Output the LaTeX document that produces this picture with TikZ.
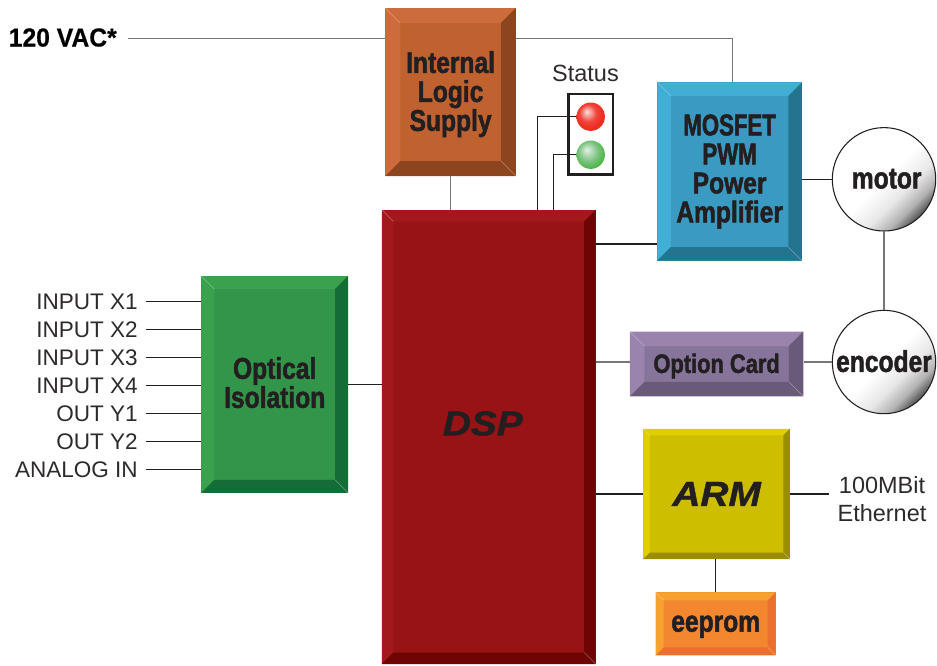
\documentclass[tikz,border=0pt]{standalone}
\usepackage{fontspec}
\setmainfont{Liberation Sans}
\newfontfamily\blockfont[FakeStretch=0.82,FakeBold=1.6]{Liberation Sans Bold}
\newfontfamily\capsfont[FakeStretch=0.74,FakeBold=1.6]{Liberation Sans Bold}
\newfontfamily\wideitfont[FakeStretch=1.12,FakeBold=1.2]{Liberation Sans Bold Italic}
\newfontfamily\vacfont[FakeStretch=0.95,FakeBold=0.5]{Liberation Sans Bold}
\usepackage{tikz}
\usetikzlibrary{calc}
\usetikzlibrary{positioning}

\definecolor{inkdark}{HTML}{231F20}
\definecolor{wiregray}{HTML}{777777}
\definecolor{logicface}{HTML}{C0622F}
\definecolor{logiclight}{HTML}{CC6C3A}
\definecolor{logicdark}{HTML}{8C451F}
\definecolor{dspface}{HTML}{971316}
\definecolor{dsplight}{HTML}{A3181C}
\definecolor{dspdark}{HTML}{6E0404}
\definecolor{mosfetface}{HTML}{3A9AC2}
\definecolor{mosfetlight}{HTML}{42ADD5}
\definecolor{mosfetdark}{HTML}{247490}
\definecolor{opticalface}{HTML}{33954A}
\definecolor{opticallight}{HTML}{3AA24F}
\definecolor{opticaldark}{HTML}{156C36}
\definecolor{optionface}{HTML}{87749A}
\definecolor{optionlight}{HTML}{9A84AE}
\definecolor{optiondark}{HTML}{6A5A7A}
\definecolor{armface}{HTML}{CDBE00}
\definecolor{armlight}{HTML}{DFCF00}
\definecolor{armdark}{HTML}{9A8E00}
\definecolor{eepromface}{HTML}{F28730}
\definecolor{eepromlight}{HTML}{F5A32E}
\definecolor{eepromdark}{HTML}{EB6F2E}
\definecolor{redglow}{HTML}{FBE0DC}
\definecolor{redmid}{HTML}{F0453C}
\definecolor{redrim}{HTML}{EE2E24}
\definecolor{greenglow}{HTML}{E4F0E4}
\definecolor{greenmid}{HTML}{7DC383}
\definecolor{greenrim}{HTML}{4FB848}
\pgfdeclareverticalshading{discshade}{100bp}{color(0bp)=(black!80); color(25bp)=(black!68); color(31bp)=(black!30); color(39bp)=(black!9); color(50bp)=(white); color(100bp)=(white)}
\pgfdeclareradialshading{redlamp}{\pgfpoint{-7bp}{9bp}}{color(0bp)=(redglow); color(15bp)=(redmid); color(24bp)=(redrim); color(50bp)=(redrim)}
\pgfdeclareradialshading{greenlamp}{\pgfpoint{-7bp}{9bp}}{color(0bp)=(greenglow); color(17bp)=(greenmid); color(27bp)=(greenrim); color(50bp)=(greenrim)}

\tikzset{
    bevelbox/.style n args={4}{rectangle, fill=#1, inner sep=0pt, align=center, text=inkdark,
        font=\blockfont\fontsize{22.5}{21.75}\selectfont,
        path picture={
            \coordinate (nw) at (path picture bounding box.north west);
            \coordinate (ne) at (path picture bounding box.north east);
            \coordinate (sw) at (path picture bounding box.south west);
            \coordinate (se) at (path picture bounding box.south east);
            \fill[#2] (nw) -- (ne) -- ([shift={(-#4,#4)}]ne) -- ([shift={(#4,#4)}]nw) -- cycle;
            \fill[#2] (nw) -- (sw) -- ([shift={(#4,-#4)}]sw) -- ([shift={(#4,#4)}]nw) -- cycle;
            \fill[#3] (se) -- (ne) -- ([shift={(-#4,#4)}]ne) -- ([shift={(-#4,-#4)}]se) -- cycle;
            \fill[#3] (se) -- (sw) -- ([shift={(#4,-#4)}]sw) -- ([shift={(-#4,-#4)}]se) -- cycle;
            \draw[white, opacity=.35, line width=.4pt] (nw) -- ([shift={(#4,#4)}]nw);
            \draw[white, opacity=.35, line width=.4pt] (se) -- ([shift={(-#4,-#4)}]se);
        }},
    boxsize/.style 2 args={minimum width=#1*0.75pt, minimum height=#2*0.75pt},
    logicbox/.style={bevelbox={logicface}{logiclight}{logicdark}{15}, boxsize={130.7}{168}},
    dspbox/.style={bevelbox={dspface}{dsplight}{dspdark}{11.5}, boxsize={213.7}{454}},
    mosfetbox/.style={bevelbox={mosfetface}{mosfetlight}{mosfetdark}{13.5}, boxsize={144.7}{178.4}},
    opticalbox/.style={bevelbox={opticalface}{opticallight}{opticaldark}{13}, boxsize={146.7}{216.7}},
    optionbox/.style={bevelbox={optionface}{optionlight}{optiondark}{14.5}, boxsize={173.3}{64.6}},
    armbox/.style={bevelbox={armface}{armlight}{armdark}{6.5}, boxsize={146.7}{130.3}},
    eeprombox/.style={bevelbox={eepromface}{eepromlight}{eepromdark}{8}, boxsize={120}{63}},
    disc/.style={circle, draw=inkdark, line width=0.8pt, shading=discshade, shading angle=45, inner sep=0pt, minimum size=103.4*0.75pt, text=inkdark, font=\blockfont\fontsize{22.5}{21.75}\selectfont},
    lamp/.style={circle, shading=#1, inner sep=0pt, minimum size=28.4*0.75pt},
    lampframe/.style={rectangle, draw=inkdark, line width=2pt, inner sep=0pt, minimum width=44.4*0.75pt, minimum height=80.8*0.75pt},
    sidelabel/.style={anchor=east, inner sep=0pt, inner xsep=6pt, text=inkdark!95, font=\fontsize{16.9}{16.9}\selectfont, text height=12pt, text depth=0pt},
    plainlabel/.style={align=center, inner sep=0pt, inner xsep=6pt, text=inkdark!95, font=\fontsize{17.6}{21}\selectfont},
    wire/.style={draw=inkdark, line width=0.9pt},
    graywire/.style={draw=wiregray, line width=1pt}
}

\begin{document}
\begin{tikzpicture}[x=0.75pt, y=-0.75pt]
    \useasboundingbox (0,0) rectangle (937,665);
    \draw (450.6,92) node[logicbox]                 (logic) {\rule{0pt}{19.5pt}Internal\\Logic\\Supply};
    \draw (488.8,437) node[dspbox]                  (dsp) {\wideitfont\fontsize{26}{26}\selectfont\raisebox{20.5pt}{DSP}\hspace{9pt}};
    \draw (729.6,171.5) node[mosfetbox]             (mosfet) {{\capsfont MOSFET}\\{\capsfont PWM}\\Power\\Amplifier};
    \draw (274.7,384.4) node[opticalbox]            (optical) {Optical\\Isolation\rule[-3pt]{0pt}{3pt}};
    \draw (716.6,364) node[optionbox]               (option) {\fontsize{20}{20}\selectfont\rule{0pt}{17.5pt}Option Card};
    \draw (716.6,493.9) node[armbox]                (arm) {\wideitfont\fontsize{26}{26}\selectfont ARM};
    \draw (715.7,623.8) node[eeprombox]             (eeprom) {\rule{0pt}{16.5pt}eeprom};
    \draw (884,179.3) node[disc]                    (motor) {\hspace*{4pt}\raisebox{1pt}{motor}};
    \draw (884,362) node[disc]                      (encoder) {\raisebox{1.5pt}{encoder}};
    \draw (590.8,134.3) node[lampframe]             (frame) {};
    \draw (590.7,116.7) node[lamp=redlamp]          (redled) {};
    \draw (590.7,154.7) node[lamp=greenlamp]        (greenled) {};
    \draw (585.5,73) node[plainlabel]               (status) {Status};
    \draw (128,38.5) node[sidelabel, inner xsep=8.25pt, text=black, font=\vacfont\fontsize{19.5}{19.5}\selectfont] (vac) {120 VAC*};
    \draw (146,301.3) node[sidelabel]               (inx1) {INPUT X1};
    \draw (146,329.3) node[sidelabel]               (inx2) {INPUT X2};
    \draw (146,357.3) node[sidelabel]               (inx3) {INPUT X3};
    \draw (146,385.3) node[sidelabel]               (inx4) {INPUT X4};
    \draw (146,413.3) node[sidelabel]               (outy1) {OUT Y1};
    \draw (146,441.3) node[sidelabel]               (outy2) {OUT Y2};
    \draw (146,469.3) node[sidelabel]               (analog) {ANALOG IN};
    \draw (882,499.5) node[plainlabel]              (ether) {100MBit\\Ethernet};
    \coordinate (mainsdrop) at (732.7,82.3);
    \coordinate (redtap) at (537.4,210);
    \coordinate (greentap) at (553.4,210);
    \draw[graywire] (vac.east) -- (vac.east -| logic.west);
    \draw[graywire] (vac.east -| logic.east) -| (mainsdrop);
    \draw[graywire] (logic.south) -- (logic.south |- dsp.north);
    \draw[graywire] (motor.south) -- (encoder.north);
    \draw[graywire] (encoder.west) -- (encoder.west -| option.east);
    \draw[graywire] (encoder.west -| option.west) -- (encoder.west -| dsp.east);
    \draw[wire] (redled.west) -| (redtap);
    \draw[wire] (greenled.west) -| (greentap);
    \draw[wire] (mosfet.east |- motor.west) -- (motor.west);
    \draw[wire] (mosfet.west |- 0,244) -- (dsp.east |- 0,244);
    \draw[wire] (optical.east) -- (optical.east -| dsp.west);
    \draw[wire] (arm.west) -- (arm.west -| dsp.east);
    \draw[wire] (arm.east) -- (arm.east -| ether.west);
    \draw[wire] (eeprom.north) -- (eeprom.north |- arm.south);
    \draw[wire] (inx1.east) -- (inx1.east -| optical.west);
    \draw[wire] (inx2.east) -- (inx2.east -| optical.west);
    \draw[wire] (inx3.east) -- (inx3.east -| optical.west);
    \draw[wire] (inx4.east) -- (inx4.east -| optical.west);
    \draw[wire] (outy1.east) -- (outy1.east -| optical.west);
    \draw[wire] (outy2.east) -- (outy2.east -| optical.west);
    \draw[wire] (analog.east) -- (analog.east -| optical.west);
\end{tikzpicture}
\end{document}
